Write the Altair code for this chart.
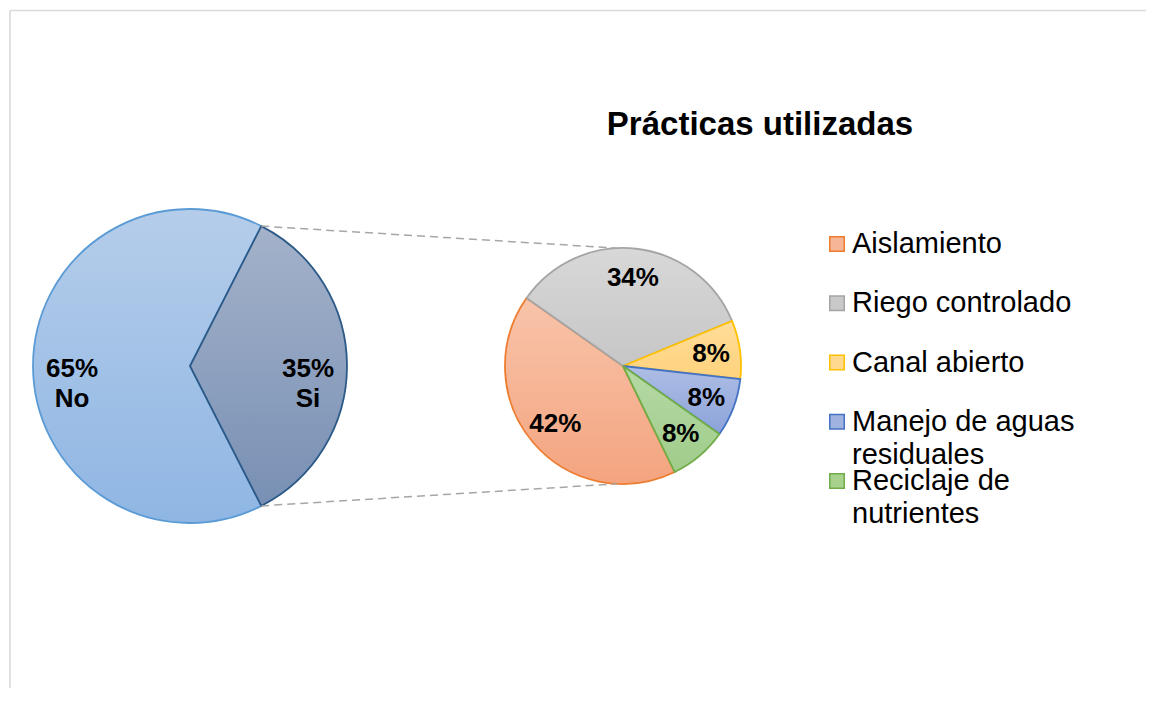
import math
import textwrap
import altair as alt
import pandas as pd

# ---------------- data ----------------
TITLE = "Prácticas utilizadas"
main_categories = ["No", "Si"]
main_values = [65, 35]
sub_categories = ["Aislamiento", "Riego controlado", "Canal abierto",
                  "Manejo de aguas residuales", "Reciclaje de nutrientes"]
sub_values = [42, 34, 8, 8, 8]

# ---------------- styles / layout ----------------
FONT = "Liberation Sans"
W, H = 1138, 680
L_CX, L_CY, L_R = 182, 358, 157
R_CX, R_CY, R_R = 615, 358, 118
L_START = math.radians(153)
R_START = math.radians(154)
CONNECT_ANGLE = math.radians(3)
TWO_PI = 2 * math.pi


def grad(top, bottom):
    return {"gradient": "linear", "x1": 0, "y1": 0, "x2": 0, "y2": 1,
            "stops": [{"offset": 0, "color": top}, {"offset": 1, "color": bottom}]}


main_fill = {"No": grad("#b5cdea", "#8fb6e3"), "Si": grad("#a4b2ca", "#7890b4")}
main_stroke = {"No": "#5b9bd5", "Si": "#2c5a88"}
sub_fill = {
    "Aislamiento": grad("#f8c4aa", "#f4a47f"),
    "Riego controlado": grad("#d8d8d8", "#c6c6c6"),
    "Canal abierto": grad("#ffdd9a", "#ffd27c"),
    "Manejo de aguas residuales": grad("#aebde4", "#8ca3da"),
    "Reciclaje de nutrientes": grad("#b6d9a5", "#a0cc8b"),
}
sub_stroke = {
    "Aislamiento": "#ed7d31",
    "Riego controlado": "#a5a5a5",
    "Canal abierto": "#ffc000",
    "Manejo de aguas residuales": "#4472c4",
    "Reciclaje de nutrientes": "#70ad47",
}
legend_fill = ["#f5b596", "#c9c9c9", "#ffd98e", "#a0b3e0", "#a9d18e"]
legend_stroke = [sub_stroke[c] for c in sub_categories]

main_df = pd.DataFrame({
    "cat": main_categories, "value": main_values,
    "order": list(range(len(main_categories))),
    "label": [f"{v}%\n{c}" for c, v in zip(main_categories, main_values)],
})
sub_df = pd.DataFrame({
    "cat": sub_categories, "value": sub_values,
    "order": list(range(len(sub_categories))),
    "label": [f"{v}%" for v in sub_values],
})
legend_df = pd.DataFrame({
    "cat": sub_categories,
    "order": list(range(len(sub_categories))),
    "text": ["\n".join(textwrap.wrap(c, 16)) for c in sub_categories],
})
MAIN_TOTAL = sum(main_values)
SUB_TOTAL = sum(sub_values)


def stacked(df):
    return (alt.Chart(df)
            .transform_window(cum="sum(value)", sort=[alt.SortField("order")], frame=[None, 0])
            .transform_calculate(start="datum.cum - datum.value",
                                 mid="datum.cum - datum.value / 2"))


def theta_scale(total, start):
    return alt.Scale(domain=[0, total], range=[start, start + TWO_PI])


layers = []

# frame (top and left border)
one = pd.DataFrame({"k": [0]})
layers.append(alt.Chart(one).mark_rule(color="#d9d9d9", strokeWidth=1.6).encode(
    x=alt.value(2), x2=alt.value(W), y=alt.value(2.5)))
layers.append(alt.Chart(one).mark_rule(color="#d9d9d9", strokeWidth=1.6).encode(
    x=alt.value(2), y=alt.value(2.5), y2=alt.value(H)))

# main pie slices
for c in main_categories:
    layers.append(
        stacked(main_df).transform_filter(alt.datum.cat == c)
        .mark_arc(radius=L_R, fill=main_fill[c], stroke=main_stroke[c], strokeWidth=1.8)
        .encode(x=alt.value(L_CX), y=alt.value(L_CY),
                theta=alt.Theta("start:Q", scale=theta_scale(MAIN_TOTAL, L_START)),
                theta2=alt.Theta2("cum"))
    )

# sub pie slices
for c in sub_categories:
    layers.append(
        stacked(sub_df).transform_filter(alt.datum.cat == c)
        .mark_arc(radius=R_R, fill=sub_fill[c], stroke=sub_stroke[c], strokeWidth=1.8)
        .encode(x=alt.value(R_CX), y=alt.value(R_CY),
                theta=alt.Theta("start:Q", scale=theta_scale(SUB_TOTAL, R_START)),
                theta2=alt.Theta2("cum"))
    )

# connector lines from the "Si" slice edges to the sub pie
conn = (stacked(main_df).transform_filter(alt.datum.cat == "Si")
        .transform_calculate(
            a0=f"{L_START} + {TWO_PI} * datum.start / {MAIN_TOTAL}",
            a1=f"{L_START} + {TWO_PI} * datum.cum / {MAIN_TOTAL}")
        .transform_calculate(
            xa=f"{L_CX} + {L_R} * sin(datum.a0)",
            ya=f"{L_CY} - {L_R} * cos(datum.a0)",
            xb=f"{L_CX} + {L_R} * sin(datum.a1)",
            yb=f"{L_CY} - {L_R} * cos(datum.a1)",
            xt=f"{R_CX} - {R_R} * sin({CONNECT_ANGLE})",
            yt=f"{R_CY} - {R_R} * cos({CONNECT_ANGLE})",
            ybt=f"{R_CY} + {R_R} * cos({CONNECT_ANGLE})"))
layers.append(conn.mark_rule(color="#a6a6a6", strokeWidth=1.5, strokeDash=[8, 5]).encode(
    x=alt.X("xa:Q", scale=None), y=alt.Y("ya:Q", scale=None),
    x2="xt:Q", y2="yt:Q"))
layers.append(conn.mark_rule(color="#a6a6a6", strokeWidth=1.5, strokeDash=[8, 5]).encode(
    x=alt.X("xb:Q", scale=None), y=alt.Y("yb:Q", scale=None),
    x2="xt:Q", y2="ybt:Q"))

# labels
layers.append(
    stacked(main_df).mark_text(radius=118, font=FONT, fontSize=26, fontWeight="bold",
                               color="black", align="center", baseline="top",
                               lineBreak="\n", lineHeight=30, dy=-10)
    .encode(x=alt.value(L_CX), y=alt.value(L_CY),
            theta=alt.Theta("mid:Q", scale=theta_scale(MAIN_TOTAL, L_START)),
            text="label:N")
)
layers.append(
    stacked(sub_df).mark_text(radius=89, font=FONT, fontSize=26, fontWeight="bold",
                              color="black", align="center", baseline="middle")
    .encode(x=alt.value(R_CX), y=alt.value(R_CY),
            theta=alt.Theta("mid:Q", scale=theta_scale(SUB_TOTAL, R_START)),
            text="label:N")
)

# title
layers.append(alt.Chart(pd.DataFrame({"t": [TITLE]})).mark_text(
    font=FONT, fontSize=33, fontWeight="bold", color="black",
    align="center", baseline="alphabetic").encode(
    x=alt.value(752), y=alt.value(127), text="t:N"))

# legend (manual)
n = len(sub_categories)
ysc = alt.Scale(domain=[0, n - 1], range=[236, 473], nice=False, zero=False)
layers.append(alt.Chart(legend_df).mark_square(size=210, strokeWidth=1.5, opacity=1).encode(
    x=alt.value(829),
    y=alt.Y("order:Q", scale=ysc, axis=None),
    fill=alt.Fill("cat:N", scale=alt.Scale(domain=sub_categories, range=legend_fill), legend=None),
    stroke=alt.Stroke("cat:N", scale=alt.Scale(domain=sub_categories, range=legend_stroke), legend=None),
))
layers.append(alt.Chart(legend_df).mark_text(
    font=FONT, fontSize=29, color="black", align="left", baseline="top",
    lineBreak="\n", lineHeight=33, dy=-14).encode(
    x=alt.value(844),
    y=alt.Y("order:Q", scale=ysc, axis=None),
    text="text:N"))

chart = (alt.layer(*layers)
         .properties(width=W, height=H, padding=0, autosize="none")
         .resolve_scale(theta="independent", x="independent", y="independent",
                        fill="independent", stroke="independent")
         .configure_view(stroke=None))

chart.save("out.html", embed_options={"renderer": "svg", "actions": False})
